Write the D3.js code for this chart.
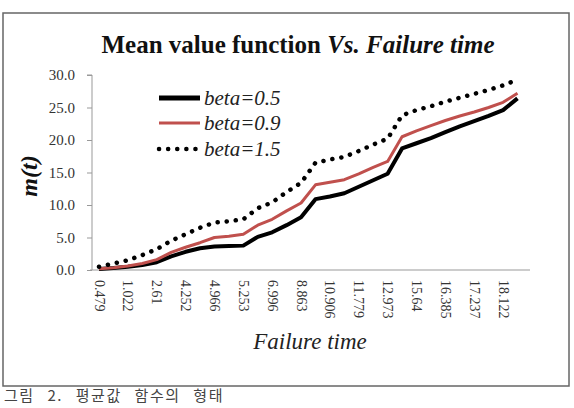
<!DOCTYPE html>
<html><head><meta charset="utf-8">
<script src="https://cdn.jsdelivr.net/npm/d3@7"></script>
<style>body{margin:0;background:#fff}svg{display:block}</style>
</head><body>
<svg id="c" width="574" height="408"></svg>
<script>
const times = ["0.479","0.745","1.022","1.576","2.61","3.559","4.252","4.849","4.966","5.136","5.253","6.527","6.996","8.17","8.863","10.091","10.906","11.177","11.779","12.558","12.973","15.3","15.64","16.0","16.385","16.8","17.237","17.7","18.122","18.5"];
const beta05 = [0.15,0.3,0.5,0.75,1.2,2.1,2.8,3.35,3.6,3.7,3.75,5.1,5.8,6.9,8.1,10.9,11.3,11.8,12.8,13.8,14.8,18.7,19.5,20.3,21.2,22.1,22.9,23.7,24.6,26.4];
const beta09 = [0.2,0.35,0.6,1.0,1.6,2.7,3.5,4.2,5.0,5.2,5.5,6.9,7.8,9.1,10.3,13.1,13.5,13.9,14.8,15.8,16.7,20.5,21.4,22.2,23.0,23.7,24.3,25.0,25.8,27.2];
const beta15 = [0.5,1.0,1.5,2.3,3.2,4.5,5.5,6.5,7.3,7.5,7.8,9.5,10.4,12.0,13.4,16.5,17.0,17.4,18.3,19.3,20.2,23.8,24.6,25.2,25.9,26.5,27.1,27.7,28.4,29.3];
const seriesNames = ["beta=0.5","beta=0.9","beta=1.5"];
const yTicks = [0,5,10,15,20,25,30];
const titleMain = "Mean value function ";
const titleItal = "Vs. Failure time";
const xTitle = "Failure time";
const yTitle = "m(t)";
const caption = "그림 2. 평균값 함수의 형태";

const svg = d3.select("#c");
const serif = "'Liberation Serif','Times New Roman',serif";

svg.append("rect").attr("x",3).attr("y",13).attr("width",566).attr("height",373)
  .attr("fill","#fff").attr("stroke","#666").attr("stroke-width",1.5);

const x = d3.scalePoint().domain(times).range([99,517.5]);
const y = d3.scaleLinear().domain([0,30]).range([270,75]);

// title
const tt = svg.append("text").attr("x",298).attr("y",53).attr("text-anchor","middle")
  .attr("font-family",serif).attr("font-size",25).attr("font-weight","bold").attr("fill","#111");
tt.append("tspan").text(titleMain);
tt.append("tspan").attr("font-style","italic").text(titleItal);

// y axis
const ya = svg.append("g").attr("transform","translate(92,0)")
  .call(d3.axisLeft(y).tickValues(yTicks).tickFormat(d3.format(".1f")).tickSize(5).tickPadding(12));
ya.select(".domain").attr("stroke","#999").attr("d","M-5,75H0V270");
ya.selectAll(".tick line").attr("stroke","#999");
ya.selectAll("text").attr("font-family",serif).attr("font-size",15).attr("fill","#333");

// x axis
const xa = svg.append("g").attr("transform","translate(0,270)")
  .call(d3.axisBottom(x).tickValues(times.filter((d,i)=>i%2===0)).tickSize(0).tickPadding(0));
xa.select(".domain").attr("stroke","#999").attr("d","M90,0H530");
xa.selectAll("text").attr("font-family",serif).attr("font-size",14).attr("fill","#333")
  .attr("text-anchor","start").attr("dy","0.35em").attr("transform","translate(0,10) rotate(90)").attr("y",0).attr("x",0);

// axis titles
svg.append("text").attr("x",310).attr("y",349).attr("text-anchor","middle")
  .attr("font-family",serif).attr("font-size",23).attr("font-style","italic").attr("fill","#222").text(xTitle);
svg.append("text").attr("transform","translate(37,176) rotate(-90)").attr("text-anchor","middle")
  .attr("font-family",serif).attr("font-size",24).attr("font-style","italic").attr("font-weight","bold").attr("fill","#111").text(yTitle);

// lines
const line = d3.line().x((d,i)=>x(times[i])).y(d=>y(d));
const styles = [
  {data:beta05, stroke:"#000", w:4, dash:null, cap:"butt"},
  {data:beta09, stroke:"#c0504d", w:3, dash:null, cap:"butt"},
  {data:beta15, stroke:"#000", w:4.5, dash:"0.1 9", cap:"round"}
];
styles.forEach(s=>{
  const p = svg.append("path").datum(s.data).attr("d",line).attr("fill","none")
    .attr("stroke",s.stroke).attr("stroke-width",s.w).attr("stroke-linecap",s.cap).attr("stroke-linejoin","round");
  if(s.dash) p.attr("stroke-dasharray",s.dash);
});

// legend
const ly = [98,123,149];
styles.forEach((s,i)=>{
  const l = svg.append("line").attr("x1",159).attr("x2",200).attr("y1",ly[i]).attr("y2",ly[i])
    .attr("stroke",s.stroke).attr("stroke-width",s.dash?4.5:(i===0?5:3)).attr("stroke-linecap",s.cap);
  if(s.dash) l.attr("stroke-dasharray",s.dash);
  svg.append("text").attr("x",204).attr("y",ly[i]+7).attr("font-family",serif).attr("font-size",21)
    .attr("font-style","italic").attr("fill","#222").text(seriesNames[i]);
});

// caption
svg.append("text").attr("x",4).attr("y",401).attr("font-family","'Noto Sans CJK KR',sans-serif")
  .attr("font-size",15).attr("fill","#444").attr("word-spacing",8).attr("letter-spacing",1.5).text(caption);
</script>
</body></html>
